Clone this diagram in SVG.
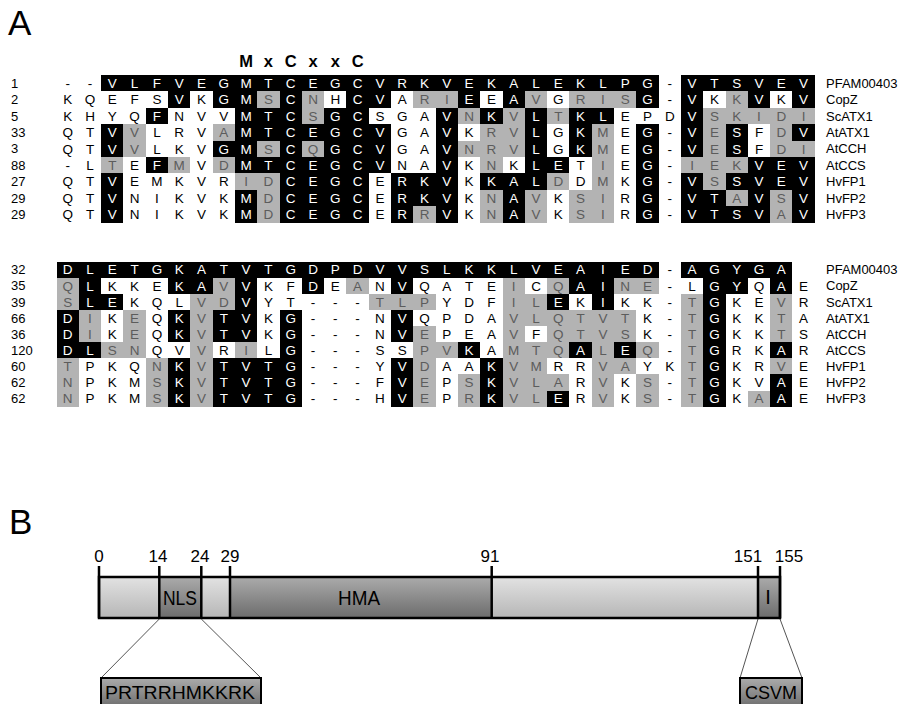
<svg xmlns="http://www.w3.org/2000/svg" width="900" height="704" viewBox="0 0 900 704">
<defs>
<linearGradient id="lt" x1="0" y1="0" x2="0" y2="1"><stop offset="0" stop-color="#e2e2e2"/><stop offset="1" stop-color="#b6b6b6"/></linearGradient>
<linearGradient id="dk" x1="0" y1="0" x2="0" y2="1"><stop offset="0" stop-color="#ababab"/><stop offset="1" stop-color="#6c6c6c"/></linearGradient>
<style>
text{font-family:"Liberation Sans",Arial,sans-serif;}
.al{font-size:13.5px;text-anchor:middle;}
.k{fill:#000;}
.w{fill:#fff;}
.g{fill:#5c5c5c;}
.cells rect{shape-rendering:crispEdges;}
.b{fill:#000;}
.gr{fill:#b3b3b3;}
.num{font-size:13px;fill:#000;}
.nm{font-size:13px;fill:#000;}
.tk{font-size:17px;fill:#000;text-anchor:middle;}
.seg{stroke:#000;stroke-width:2.5;}
.dom{font-size:20px;fill:#000;text-anchor:middle;}
.co{stroke:#555;stroke-width:1;fill:none;}
.panel{font-size:35px;fill:#000;}
</style>
</defs>
<rect width="900" height="704" fill="#fff"/>
<text class="panel" x="8" y="35">A</text>
<text class="panel" x="9" y="534">B</text>
<g id="motif" style="font-size:16.5px;font-weight:bold;text-anchor:middle">
<text x="246.1" y="67">M</text><text x="268.4" y="67">x</text><text x="290.7" y="67">C</text><text x="313" y="67">x</text><text x="335.3" y="67">x</text><text x="357.6" y="67">C</text>
</g>
<g id="block1">
<g class="cells" transform="translate(56.5,75) scale(22.3,16.4)">
<rect class="b" x="2" y="0" width="25" height="1"/><rect class="b" x="28" y="0" width="6" height="1"/>
<rect class="b" x="5" y="1" width="1" height="1"/><rect class="b" x="7" y="1" width="2" height="1"/><rect class="gr" x="9" y="1" width="1" height="1"/><rect class="b" x="10" y="1" width="1" height="1"/><rect class="gr" x="11" y="1" width="1" height="1"/><rect class="b" x="13" y="1" width="2" height="1"/><rect class="gr" x="16" y="1" width="2" height="1"/><rect class="b" x="18" y="1" width="1" height="1"/><rect class="b" x="20" y="1" width="1" height="1"/><rect class="gr" x="21" y="1" width="1" height="1"/><rect class="gr" x="23" y="1" width="3" height="1"/><rect class="b" x="26" y="1" width="1" height="1"/><rect class="b" x="28" y="1" width="1" height="1"/><rect class="gr" x="30" y="1" width="1" height="1"/><rect class="b" x="31" y="1" width="1" height="1"/><rect class="b" x="33" y="1" width="1" height="1"/>
<rect class="b" x="4" y="2" width="1" height="1"/><rect class="b" x="8" y="2" width="3" height="1"/><rect class="gr" x="11" y="2" width="1" height="1"/><rect class="b" x="12" y="2" width="2" height="1"/><rect class="b" x="17" y="2" width="1" height="1"/><rect class="gr" x="18" y="2" width="1" height="1"/><rect class="b" x="19" y="2" width="1" height="1"/><rect class="gr" x="20" y="2" width="1" height="1"/><rect class="b" x="21" y="2" width="1" height="1"/><rect class="gr" x="22" y="2" width="1" height="1"/><rect class="b" x="23" y="2" width="2" height="1"/><rect class="b" x="28" y="2" width="1" height="1"/><rect class="gr" x="29" y="2" width="5" height="1"/>
<rect class="b" x="2" y="3" width="1" height="1"/><rect class="gr" x="3" y="3" width="1" height="1"/><rect class="gr" x="7" y="3" width="1" height="1"/><rect class="b" x="8" y="3" width="7" height="1"/><rect class="b" x="17" y="3" width="1" height="1"/><rect class="gr" x="19" y="3" width="2" height="1"/><rect class="b" x="21" y="3" width="1" height="1"/><rect class="b" x="23" y="3" width="1" height="1"/><rect class="gr" x="24" y="3" width="1" height="1"/><rect class="b" x="26" y="3" width="1" height="1"/><rect class="b" x="28" y="3" width="1" height="1"/><rect class="gr" x="29" y="3" width="1" height="1"/><rect class="b" x="30" y="3" width="1" height="1"/><rect class="gr" x="32" y="3" width="1" height="1"/><rect class="b" x="33" y="3" width="1" height="1"/>
<rect class="b" x="2" y="4" width="1" height="1"/><rect class="gr" x="3" y="4" width="1" height="1"/><rect class="b" x="7" y="4" width="2" height="1"/><rect class="gr" x="9" y="4" width="1" height="1"/><rect class="b" x="10" y="4" width="1" height="1"/><rect class="gr" x="11" y="4" width="1" height="1"/><rect class="b" x="12" y="4" width="3" height="1"/><rect class="b" x="17" y="4" width="1" height="1"/><rect class="gr" x="18" y="4" width="3" height="1"/><rect class="b" x="21" y="4" width="1" height="1"/><rect class="b" x="23" y="4" width="1" height="1"/><rect class="gr" x="24" y="4" width="1" height="1"/><rect class="b" x="26" y="4" width="1" height="1"/><rect class="b" x="28" y="4" width="1" height="1"/><rect class="gr" x="29" y="4" width="1" height="1"/><rect class="b" x="30" y="4" width="1" height="1"/><rect class="gr" x="32" y="4" width="2" height="1"/>
<rect class="gr" x="2" y="5" width="1" height="1"/><rect class="b" x="4" y="5" width="1" height="1"/><rect class="gr" x="5" y="5" width="1" height="1"/><rect class="gr" x="7" y="5" width="1" height="1"/><rect class="b" x="8" y="5" width="7" height="1"/><rect class="b" x="17" y="5" width="1" height="1"/><rect class="gr" x="19" y="5" width="1" height="1"/><rect class="b" x="21" y="5" width="2" height="1"/><rect class="gr" x="24" y="5" width="1" height="1"/><rect class="b" x="26" y="5" width="1" height="1"/><rect class="gr" x="28" y="5" width="3" height="1"/><rect class="b" x="31" y="5" width="3" height="1"/>
<rect class="b" x="2" y="6" width="1" height="1"/><rect class="gr" x="8" y="6" width="2" height="1"/><rect class="b" x="10" y="6" width="4" height="1"/><rect class="b" x="15" y="6" width="3" height="1"/><rect class="b" x="19" y="6" width="3" height="1"/><rect class="gr" x="22" y="6" width="1" height="1"/><rect class="gr" x="24" y="6" width="1" height="1"/><rect class="b" x="26" y="6" width="1" height="1"/><rect class="b" x="28" y="6" width="1" height="1"/><rect class="gr" x="29" y="6" width="1" height="1"/><rect class="b" x="30" y="6" width="4" height="1"/>
<rect class="b" x="2" y="7" width="1" height="1"/><rect class="b" x="8" y="7" width="1" height="1"/><rect class="gr" x="9" y="7" width="1" height="1"/><rect class="b" x="10" y="7" width="4" height="1"/><rect class="b" x="15" y="7" width="3" height="1"/><rect class="gr" x="19" y="7" width="1" height="1"/><rect class="b" x="20" y="7" width="1" height="1"/><rect class="gr" x="21" y="7" width="1" height="1"/><rect class="gr" x="23" y="7" width="2" height="1"/><rect class="b" x="26" y="7" width="1" height="1"/><rect class="b" x="28" y="7" width="2" height="1"/><rect class="gr" x="30" y="7" width="1" height="1"/><rect class="b" x="31" y="7" width="1" height="1"/><rect class="gr" x="32" y="7" width="1" height="1"/><rect class="b" x="33" y="7" width="1" height="1"/>
<rect class="b" x="2" y="8" width="1" height="1"/><rect class="b" x="8" y="8" width="1" height="1"/><rect class="gr" x="9" y="8" width="1" height="1"/><rect class="b" x="10" y="8" width="4" height="1"/><rect class="b" x="15" y="8" width="1" height="1"/><rect class="gr" x="16" y="8" width="1" height="1"/><rect class="b" x="17" y="8" width="1" height="1"/><rect class="gr" x="19" y="8" width="1" height="1"/><rect class="b" x="20" y="8" width="1" height="1"/><rect class="gr" x="21" y="8" width="1" height="1"/><rect class="gr" x="23" y="8" width="2" height="1"/><rect class="b" x="26" y="8" width="1" height="1"/><rect class="b" x="28" y="8" width="4" height="1"/><rect class="gr" x="32" y="8" width="1" height="1"/><rect class="b" x="33" y="8" width="1" height="1"/>
</g>
<g id="seq1">
<text class="al" y="87.9" x="67.7 90 112.3 134.6 156.9 179.2 201.5 223.8 246.1 268.4 290.7 313 335.3 357.6 379.9 402.2 424.5 446.8 469.1 491.4 513.7 536 558.3 580.6 602.9 625.2 647.5 669.8 692.1 714.4 736.7 759 781.3 803.6"><tspan class="k">--</tspan><tspan class="w">VLFVEGMTCEGCVRKVEKALEKLPG</tspan><tspan class="k">-</tspan><tspan class="w">VTSVEV</tspan></text>
<text class="al" y="104.3" x="67.7 90 112.3 134.6 156.9 179.2 201.5 223.8 246.1 268.4 290.7 313 335.3 357.6 379.9 402.2 424.5 446.8 469.1 491.4 513.7 536 558.3 580.6 602.9 625.2 647.5 669.8 692.1 714.4 736.7 759 781.3 803.6"><tspan class="k">KQEFS</tspan><tspan class="w">V</tspan><tspan class="k">K</tspan><tspan class="w">GM</tspan><tspan class="g">S</tspan><tspan class="w">C</tspan><tspan class="g">N</tspan><tspan class="k">H</tspan><tspan class="w">CV</tspan><tspan class="k">A</tspan><tspan class="g">RI</tspan><tspan class="w">E</tspan><tspan class="k">E</tspan><tspan class="w">A</tspan><tspan class="g">V</tspan><tspan class="k">G</tspan><tspan class="g">RIS</tspan><tspan class="w">G</tspan><tspan class="k">-</tspan><tspan class="w">V</tspan><tspan class="k">K</tspan><tspan class="g">K</tspan><tspan class="w">V</tspan><tspan class="k">K</tspan><tspan class="w">V</tspan></text>
<text class="al" y="120.7" x="67.7 90 112.3 134.6 156.9 179.2 201.5 223.8 246.1 268.4 290.7 313 335.3 357.6 379.9 402.2 424.5 446.8 469.1 491.4 513.7 536 558.3 580.6 602.9 625.2 647.5 669.8 692.1 714.4 736.7 759 781.3 803.6"><tspan class="k">KHYQ</tspan><tspan class="w">F</tspan><tspan class="k">NVV</tspan><tspan class="w">MTC</tspan><tspan class="g">S</tspan><tspan class="w">GC</tspan><tspan class="k">SGA</tspan><tspan class="w">V</tspan><tspan class="g">N</tspan><tspan class="w">K</tspan><tspan class="g">V</tspan><tspan class="w">L</tspan><tspan class="g">T</tspan><tspan class="w">KL</tspan><tspan class="k">EPD</tspan><tspan class="w">V</tspan><tspan class="g">SKIDI</tspan></text>
<text class="al" y="137.1" x="67.7 90 112.3 134.6 156.9 179.2 201.5 223.8 246.1 268.4 290.7 313 335.3 357.6 379.9 402.2 424.5 446.8 469.1 491.4 513.7 536 558.3 580.6 602.9 625.2 647.5 669.8 692.1 714.4 736.7 759 781.3 803.6"><tspan class="k">QT</tspan><tspan class="w">V</tspan><tspan class="g">V</tspan><tspan class="k">LRV</tspan><tspan class="g">A</tspan><tspan class="w">MTCEGCV</tspan><tspan class="k">GA</tspan><tspan class="w">V</tspan><tspan class="k">K</tspan><tspan class="g">RV</tspan><tspan class="w">L</tspan><tspan class="k">G</tspan><tspan class="w">K</tspan><tspan class="g">M</tspan><tspan class="k">E</tspan><tspan class="w">G</tspan><tspan class="k">-</tspan><tspan class="w">V</tspan><tspan class="g">E</tspan><tspan class="w">S</tspan><tspan class="k">F</tspan><tspan class="g">D</tspan><tspan class="w">V</tspan></text>
<text class="al" y="153.5" x="67.7 90 112.3 134.6 156.9 179.2 201.5 223.8 246.1 268.4 290.7 313 335.3 357.6 379.9 402.2 424.5 446.8 469.1 491.4 513.7 536 558.3 580.6 602.9 625.2 647.5 669.8 692.1 714.4 736.7 759 781.3 803.6"><tspan class="k">QT</tspan><tspan class="w">V</tspan><tspan class="g">V</tspan><tspan class="k">LKV</tspan><tspan class="w">GM</tspan><tspan class="g">S</tspan><tspan class="w">C</tspan><tspan class="g">Q</tspan><tspan class="w">GCV</tspan><tspan class="k">GA</tspan><tspan class="w">V</tspan><tspan class="g">NRV</tspan><tspan class="w">L</tspan><tspan class="k">G</tspan><tspan class="w">K</tspan><tspan class="g">M</tspan><tspan class="k">E</tspan><tspan class="w">G</tspan><tspan class="k">-</tspan><tspan class="w">V</tspan><tspan class="g">E</tspan><tspan class="w">S</tspan><tspan class="k">F</tspan><tspan class="g">DI</tspan></text>
<text class="al" y="169.9" x="67.7 90 112.3 134.6 156.9 179.2 201.5 223.8 246.1 268.4 290.7 313 335.3 357.6 379.9 402.2 424.5 446.8 469.1 491.4 513.7 536 558.3 580.6 602.9 625.2 647.5 669.8 692.1 714.4 736.7 759 781.3 803.6"><tspan class="k">-L</tspan><tspan class="g">T</tspan><tspan class="k">E</tspan><tspan class="w">F</tspan><tspan class="g">M</tspan><tspan class="k">V</tspan><tspan class="g">D</tspan><tspan class="w">MTCEGCV</tspan><tspan class="k">NA</tspan><tspan class="w">V</tspan><tspan class="k">K</tspan><tspan class="g">N</tspan><tspan class="k">K</tspan><tspan class="w">LE</tspan><tspan class="k">T</tspan><tspan class="g">I</tspan><tspan class="k">E</tspan><tspan class="w">G</tspan><tspan class="k">-</tspan><tspan class="g">IEK</tspan><tspan class="w">VEV</tspan></text>
<text class="al" y="186.3" x="67.7 90 112.3 134.6 156.9 179.2 201.5 223.8 246.1 268.4 290.7 313 335.3 357.6 379.9 402.2 424.5 446.8 469.1 491.4 513.7 536 558.3 580.6 602.9 625.2 647.5 669.8 692.1 714.4 736.7 759 781.3 803.6"><tspan class="k">QT</tspan><tspan class="w">V</tspan><tspan class="k">EMKVR</tspan><tspan class="g">ID</tspan><tspan class="w">CEGC</tspan><tspan class="k">E</tspan><tspan class="w">RKV</tspan><tspan class="k">K</tspan><tspan class="w">KAL</tspan><tspan class="g">D</tspan><tspan class="k">D</tspan><tspan class="g">M</tspan><tspan class="k">K</tspan><tspan class="w">G</tspan><tspan class="k">-</tspan><tspan class="w">V</tspan><tspan class="g">S</tspan><tspan class="w">SVEV</tspan></text>
<text class="al" y="202.7" x="67.7 90 112.3 134.6 156.9 179.2 201.5 223.8 246.1 268.4 290.7 313 335.3 357.6 379.9 402.2 424.5 446.8 469.1 491.4 513.7 536 558.3 580.6 602.9 625.2 647.5 669.8 692.1 714.4 736.7 759 781.3 803.6"><tspan class="k">QT</tspan><tspan class="w">V</tspan><tspan class="k">NIKVK</tspan><tspan class="w">M</tspan><tspan class="g">D</tspan><tspan class="w">CEGC</tspan><tspan class="k">E</tspan><tspan class="w">RKV</tspan><tspan class="k">K</tspan><tspan class="g">N</tspan><tspan class="w">A</tspan><tspan class="g">V</tspan><tspan class="k">K</tspan><tspan class="g">SI</tspan><tspan class="k">R</tspan><tspan class="w">G</tspan><tspan class="k">-</tspan><tspan class="w">VT</tspan><tspan class="g">A</tspan><tspan class="w">V</tspan><tspan class="g">S</tspan><tspan class="w">V</tspan></text>
<text class="al" y="219.1" x="67.7 90 112.3 134.6 156.9 179.2 201.5 223.8 246.1 268.4 290.7 313 335.3 357.6 379.9 402.2 424.5 446.8 469.1 491.4 513.7 536 558.3 580.6 602.9 625.2 647.5 669.8 692.1 714.4 736.7 759 781.3 803.6"><tspan class="k">QT</tspan><tspan class="w">V</tspan><tspan class="k">NIKVK</tspan><tspan class="w">M</tspan><tspan class="g">D</tspan><tspan class="w">CEGC</tspan><tspan class="k">E</tspan><tspan class="w">R</tspan><tspan class="g">R</tspan><tspan class="w">V</tspan><tspan class="k">K</tspan><tspan class="g">N</tspan><tspan class="w">A</tspan><tspan class="g">V</tspan><tspan class="k">K</tspan><tspan class="g">SI</tspan><tspan class="k">R</tspan><tspan class="w">G</tspan><tspan class="k">-</tspan><tspan class="w">VTSV</tspan><tspan class="g">A</tspan><tspan class="w">V</tspan></text>
</g>
<g id="nums1" class="num">
<text x="11" y="87.8">1</text><text x="11" y="104.2">2</text><text x="11" y="120.6">5</text><text x="11" y="137">33</text><text x="11" y="153.4">3</text><text x="11" y="169.8">88</text><text x="11" y="186.2">27</text><text x="11" y="202.6">29</text><text x="11" y="219">29</text>
</g>
<g id="names1" class="nm">
<text x="826" y="87.8">PFAM00403</text><text x="826" y="104.2">CopZ</text><text x="826" y="120.6">ScATX1</text><text x="826" y="137">AtATX1</text><text x="826" y="153.4">AtCCH</text><text x="826" y="169.8">AtCCS</text><text x="826" y="186.2">HvFP1</text><text x="826" y="202.6">HvFP2</text><text x="826" y="219">HvFP3</text>
</g>
</g>
<g id="block2">
<g class="cells" transform="translate(56.5,261.7) scale(22.3,16.1)">
<rect class="b" x="0" y="0" width="27" height="1"/><rect class="b" x="28" y="0" width="5" height="1"/>
<rect class="gr" x="0" y="1" width="1" height="1"/><rect class="b" x="1" y="1" width="1" height="1"/><rect class="b" x="5" y="1" width="2" height="1"/><rect class="gr" x="7" y="1" width="1" height="1"/><rect class="b" x="8" y="1" width="1" height="1"/><rect class="b" x="11" y="1" width="1" height="1"/><rect class="gr" x="13" y="1" width="1" height="1"/><rect class="b" x="15" y="1" width="1" height="1"/><rect class="gr" x="20" y="1" width="1" height="1"/><rect class="gr" x="22" y="1" width="1" height="1"/><rect class="b" x="23" y="1" width="2" height="1"/><rect class="gr" x="25" y="1" width="2" height="1"/><rect class="b" x="29" y="1" width="2" height="1"/><rect class="b" x="32" y="1" width="1" height="1"/>
<rect class="gr" x="0" y="2" width="1" height="1"/><rect class="b" x="1" y="2" width="2" height="1"/><rect class="gr" x="6" y="2" width="2" height="1"/><rect class="b" x="8" y="2" width="1" height="1"/><rect class="gr" x="14" y="2" width="3" height="1"/><rect class="gr" x="20" y="2" width="2" height="1"/><rect class="b" x="22" y="2" width="1" height="1"/><rect class="b" x="24" y="2" width="1" height="1"/><rect class="gr" x="28" y="2" width="1" height="1"/><rect class="b" x="29" y="2" width="1" height="1"/><rect class="gr" x="32" y="2" width="1" height="1"/>
<rect class="b" x="0" y="3" width="1" height="1"/><rect class="gr" x="1" y="3" width="1" height="1"/><rect class="gr" x="3" y="3" width="1" height="1"/><rect class="b" x="5" y="3" width="1" height="1"/><rect class="gr" x="6" y="3" width="1" height="1"/><rect class="b" x="7" y="3" width="2" height="1"/><rect class="b" x="10" y="3" width="1" height="1"/><rect class="b" x="15" y="3" width="1" height="1"/><rect class="gr" x="20" y="3" width="6" height="1"/><rect class="gr" x="28" y="3" width="1" height="1"/><rect class="b" x="29" y="3" width="1" height="1"/><rect class="gr" x="32" y="3" width="1" height="1"/>
<rect class="b" x="0" y="4" width="1" height="1"/><rect class="gr" x="1" y="4" width="1" height="1"/><rect class="gr" x="3" y="4" width="1" height="1"/><rect class="b" x="5" y="4" width="1" height="1"/><rect class="gr" x="6" y="4" width="1" height="1"/><rect class="b" x="7" y="4" width="2" height="1"/><rect class="b" x="10" y="4" width="1" height="1"/><rect class="b" x="15" y="4" width="1" height="1"/><rect class="gr" x="16" y="4" width="1" height="1"/><rect class="gr" x="20" y="4" width="1" height="1"/><rect class="gr" x="22" y="4" width="4" height="1"/><rect class="gr" x="28" y="4" width="1" height="1"/><rect class="b" x="29" y="4" width="1" height="1"/><rect class="gr" x="32" y="4" width="1" height="1"/>
<rect class="b" x="0" y="5" width="2" height="1"/><rect class="gr" x="2" y="5" width="2" height="1"/><rect class="gr" x="6" y="5" width="1" height="1"/><rect class="gr" x="8" y="5" width="1" height="1"/><rect class="b" x="10" y="5" width="1" height="1"/><rect class="gr" x="16" y="5" width="2" height="1"/><rect class="b" x="18" y="5" width="1" height="1"/><rect class="gr" x="20" y="5" width="3" height="1"/><rect class="b" x="23" y="5" width="1" height="1"/><rect class="gr" x="24" y="5" width="1" height="1"/><rect class="b" x="25" y="5" width="1" height="1"/><rect class="gr" x="26" y="5" width="1" height="1"/><rect class="gr" x="28" y="5" width="1" height="1"/><rect class="b" x="29" y="5" width="1" height="1"/><rect class="b" x="32" y="5" width="1" height="1"/>
<rect class="gr" x="0" y="6" width="1" height="1"/><rect class="gr" x="4" y="6" width="1" height="1"/><rect class="b" x="5" y="6" width="1" height="1"/><rect class="gr" x="6" y="6" width="1" height="1"/><rect class="b" x="7" y="6" width="4" height="1"/><rect class="b" x="15" y="6" width="1" height="1"/><rect class="gr" x="16" y="6" width="1" height="1"/><rect class="b" x="19" y="6" width="1" height="1"/><rect class="gr" x="20" y="6" width="2" height="1"/><rect class="gr" x="24" y="6" width="2" height="1"/><rect class="gr" x="28" y="6" width="1" height="1"/><rect class="b" x="29" y="6" width="1" height="1"/><rect class="gr" x="32" y="6" width="1" height="1"/>
<rect class="gr" x="0" y="7" width="1" height="1"/><rect class="gr" x="4" y="7" width="1" height="1"/><rect class="b" x="5" y="7" width="1" height="1"/><rect class="gr" x="6" y="7" width="1" height="1"/><rect class="b" x="7" y="7" width="4" height="1"/><rect class="b" x="15" y="7" width="1" height="1"/><rect class="gr" x="16" y="7" width="1" height="1"/><rect class="gr" x="18" y="7" width="1" height="1"/><rect class="b" x="19" y="7" width="1" height="1"/><rect class="gr" x="20" y="7" width="3" height="1"/><rect class="gr" x="24" y="7" width="1" height="1"/><rect class="gr" x="26" y="7" width="1" height="1"/><rect class="gr" x="28" y="7" width="1" height="1"/><rect class="b" x="29" y="7" width="1" height="1"/><rect class="b" x="32" y="7" width="1" height="1"/>
<rect class="gr" x="0" y="8" width="1" height="1"/><rect class="gr" x="4" y="8" width="1" height="1"/><rect class="b" x="5" y="8" width="1" height="1"/><rect class="gr" x="6" y="8" width="1" height="1"/><rect class="b" x="7" y="8" width="4" height="1"/><rect class="b" x="15" y="8" width="1" height="1"/><rect class="gr" x="16" y="8" width="1" height="1"/><rect class="gr" x="18" y="8" width="1" height="1"/><rect class="b" x="19" y="8" width="1" height="1"/><rect class="gr" x="20" y="8" width="2" height="1"/><rect class="b" x="22" y="8" width="1" height="1"/><rect class="gr" x="24" y="8" width="1" height="1"/><rect class="gr" x="26" y="8" width="1" height="1"/><rect class="gr" x="28" y="8" width="1" height="1"/><rect class="b" x="29" y="8" width="1" height="1"/><rect class="gr" x="31" y="8" width="1" height="1"/><rect class="b" x="32" y="8" width="1" height="1"/>
</g>
<g id="seq2">
<text class="al" y="274.4" x="67.7 90 112.3 134.6 156.9 179.2 201.5 223.8 246.1 268.4 290.7 313 335.3 357.6 379.9 402.2 424.5 446.8 469.1 491.4 513.7 536 558.3 580.6 602.9 625.2 647.5 669.8 692.1 714.4 736.7 759 781.3 803.6"><tspan class="w">DLETGKATVTGDPDVVSLKKLVEAIED</tspan><tspan class="k">-</tspan><tspan class="w">AGYGA</tspan></text>
<text class="al" y="290.5" x="67.7 90 112.3 134.6 156.9 179.2 201.5 223.8 246.1 268.4 290.7 313 335.3 357.6 379.9 402.2 424.5 446.8 469.1 491.4 513.7 536 558.3 580.6 602.9 625.2 647.5 669.8 692.1 714.4 736.7 759 781.3 803.6"><tspan class="g">Q</tspan><tspan class="w">L</tspan><tspan class="k">KKE</tspan><tspan class="w">KA</tspan><tspan class="g">V</tspan><tspan class="w">V</tspan><tspan class="k">KF</tspan><tspan class="w">D</tspan><tspan class="k">E</tspan><tspan class="g">A</tspan><tspan class="k">N</tspan><tspan class="w">V</tspan><tspan class="k">QATE</tspan><tspan class="g">I</tspan><tspan class="k">C</tspan><tspan class="g">Q</tspan><tspan class="w">AI</tspan><tspan class="g">NE</tspan><tspan class="k">-L</tspan><tspan class="w">GY</tspan><tspan class="k">Q</tspan><tspan class="w">A</tspan><tspan class="k">E</tspan></text>
<text class="al" y="306.6" x="67.7 90 112.3 134.6 156.9 179.2 201.5 223.8 246.1 268.4 290.7 313 335.3 357.6 379.9 402.2 424.5 446.8 469.1 491.4 513.7 536 558.3 580.6 602.9 625.2 647.5 669.8 692.1 714.4 736.7 759 781.3 803.6"><tspan class="g">S</tspan><tspan class="w">LE</tspan><tspan class="k">KQL</tspan><tspan class="g">VD</tspan><tspan class="w">V</tspan><tspan class="k">YT---</tspan><tspan class="g">TLP</tspan><tspan class="k">YDF</tspan><tspan class="g">IL</tspan><tspan class="w">E</tspan><tspan class="k">K</tspan><tspan class="w">I</tspan><tspan class="k">KK-</tspan><tspan class="g">T</tspan><tspan class="w">G</tspan><tspan class="k">KE</tspan><tspan class="g">V</tspan><tspan class="k">R</tspan></text>
<text class="al" y="322.7" x="67.7 90 112.3 134.6 156.9 179.2 201.5 223.8 246.1 268.4 290.7 313 335.3 357.6 379.9 402.2 424.5 446.8 469.1 491.4 513.7 536 558.3 580.6 602.9 625.2 647.5 669.8 692.1 714.4 736.7 759 781.3 803.6"><tspan class="w">D</tspan><tspan class="g">I</tspan><tspan class="k">K</tspan><tspan class="g">E</tspan><tspan class="k">Q</tspan><tspan class="w">K</tspan><tspan class="g">V</tspan><tspan class="w">TV</tspan><tspan class="k">K</tspan><tspan class="w">G</tspan><tspan class="k">---N</tspan><tspan class="w">V</tspan><tspan class="k">QPDA</tspan><tspan class="g">VLQTVT</tspan><tspan class="k">K-</tspan><tspan class="g">T</tspan><tspan class="w">G</tspan><tspan class="k">KK</tspan><tspan class="g">T</tspan><tspan class="k">A</tspan></text>
<text class="al" y="338.8" x="67.7 90 112.3 134.6 156.9 179.2 201.5 223.8 246.1 268.4 290.7 313 335.3 357.6 379.9 402.2 424.5 446.8 469.1 491.4 513.7 536 558.3 580.6 602.9 625.2 647.5 669.8 692.1 714.4 736.7 759 781.3 803.6"><tspan class="w">D</tspan><tspan class="g">I</tspan><tspan class="k">K</tspan><tspan class="g">E</tspan><tspan class="k">Q</tspan><tspan class="w">K</tspan><tspan class="g">V</tspan><tspan class="w">TV</tspan><tspan class="k">K</tspan><tspan class="w">G</tspan><tspan class="k">---N</tspan><tspan class="w">V</tspan><tspan class="g">E</tspan><tspan class="k">PEA</tspan><tspan class="g">V</tspan><tspan class="k">F</tspan><tspan class="g">QTVS</tspan><tspan class="k">K-</tspan><tspan class="g">T</tspan><tspan class="w">G</tspan><tspan class="k">KK</tspan><tspan class="g">T</tspan><tspan class="k">S</tspan></text>
<text class="al" y="354.9" x="67.7 90 112.3 134.6 156.9 179.2 201.5 223.8 246.1 268.4 290.7 313 335.3 357.6 379.9 402.2 424.5 446.8 469.1 491.4 513.7 536 558.3 580.6 602.9 625.2 647.5 669.8 692.1 714.4 736.7 759 781.3 803.6"><tspan class="w">DL</tspan><tspan class="g">SN</tspan><tspan class="k">QV</tspan><tspan class="g">V</tspan><tspan class="k">R</tspan><tspan class="g">I</tspan><tspan class="k">L</tspan><tspan class="w">G</tspan><tspan class="k">---SS</tspan><tspan class="g">PV</tspan><tspan class="w">K</tspan><tspan class="k">A</tspan><tspan class="g">MTQ</tspan><tspan class="w">A</tspan><tspan class="g">L</tspan><tspan class="w">E</tspan><tspan class="g">Q</tspan><tspan class="k">-</tspan><tspan class="g">T</tspan><tspan class="w">G</tspan><tspan class="k">RK</tspan><tspan class="w">A</tspan><tspan class="k">R</tspan></text>
<text class="al" y="371" x="67.7 90 112.3 134.6 156.9 179.2 201.5 223.8 246.1 268.4 290.7 313 335.3 357.6 379.9 402.2 424.5 446.8 469.1 491.4 513.7 536 558.3 580.6 602.9 625.2 647.5 669.8 692.1 714.4 736.7 759 781.3 803.6"><tspan class="g">T</tspan><tspan class="k">PKQ</tspan><tspan class="g">N</tspan><tspan class="w">K</tspan><tspan class="g">V</tspan><tspan class="w">TVTG</tspan><tspan class="k">---Y</tspan><tspan class="w">V</tspan><tspan class="g">D</tspan><tspan class="k">AA</tspan><tspan class="w">K</tspan><tspan class="g">VM</tspan><tspan class="k">RR</tspan><tspan class="g">VA</tspan><tspan class="k">YK</tspan><tspan class="g">T</tspan><tspan class="w">G</tspan><tspan class="k">KR</tspan><tspan class="g">V</tspan><tspan class="k">E</tspan></text>
<text class="al" y="387.1" x="67.7 90 112.3 134.6 156.9 179.2 201.5 223.8 246.1 268.4 290.7 313 335.3 357.6 379.9 402.2 424.5 446.8 469.1 491.4 513.7 536 558.3 580.6 602.9 625.2 647.5 669.8 692.1 714.4 736.7 759 781.3 803.6"><tspan class="g">N</tspan><tspan class="k">PKM</tspan><tspan class="g">S</tspan><tspan class="w">K</tspan><tspan class="g">V</tspan><tspan class="w">TVTG</tspan><tspan class="k">---F</tspan><tspan class="w">V</tspan><tspan class="g">E</tspan><tspan class="k">P</tspan><tspan class="g">S</tspan><tspan class="w">K</tspan><tspan class="g">VLA</tspan><tspan class="k">R</tspan><tspan class="g">V</tspan><tspan class="k">K</tspan><tspan class="g">S</tspan><tspan class="k">-</tspan><tspan class="g">T</tspan><tspan class="w">G</tspan><tspan class="k">KV</tspan><tspan class="w">A</tspan><tspan class="k">E</tspan></text>
<text class="al" y="403.2" x="67.7 90 112.3 134.6 156.9 179.2 201.5 223.8 246.1 268.4 290.7 313 335.3 357.6 379.9 402.2 424.5 446.8 469.1 491.4 513.7 536 558.3 580.6 602.9 625.2 647.5 669.8 692.1 714.4 736.7 759 781.3 803.6"><tspan class="g">N</tspan><tspan class="k">PKM</tspan><tspan class="g">S</tspan><tspan class="w">K</tspan><tspan class="g">V</tspan><tspan class="w">TVTG</tspan><tspan class="k">---H</tspan><tspan class="w">V</tspan><tspan class="g">E</tspan><tspan class="k">P</tspan><tspan class="g">R</tspan><tspan class="w">K</tspan><tspan class="g">VL</tspan><tspan class="w">E</tspan><tspan class="k">R</tspan><tspan class="g">V</tspan><tspan class="k">K</tspan><tspan class="g">S</tspan><tspan class="k">-</tspan><tspan class="g">T</tspan><tspan class="w">G</tspan><tspan class="k">K</tspan><tspan class="g">A</tspan><tspan class="w">A</tspan><tspan class="k">E</tspan></text>
</g>
<g id="nums2" class="num">
<text x="11" y="274.3">32</text><text x="11" y="290.4">35</text><text x="11" y="306.5">39</text><text x="11" y="322.6">66</text><text x="11" y="338.7">36</text><text x="11" y="354.8">120</text><text x="11" y="370.9">60</text><text x="11" y="387">62</text><text x="11" y="403.1">62</text>
</g>
<g id="names2" class="nm">
<text x="826" y="274.3">PFAM00403</text><text x="826" y="290.4">CopZ</text><text x="826" y="306.5">ScATX1</text><text x="826" y="322.6">AtATX1</text><text x="826" y="338.7">AtCCH</text><text x="826" y="354.8">AtCCS</text><text x="826" y="370.9">HvFP1</text><text x="826" y="387">HvFP2</text><text x="826" y="403.1">HvFP3</text>
</g>
</g>
<g id="connectors">
<line class="co" x1="159.3" y1="619" x2="101" y2="678"/>
<line class="co" x1="201.3" y1="619" x2="261" y2="678"/>
<line class="co" x1="758" y1="619" x2="740" y2="678"/>
<line class="co" x1="780" y1="619" x2="802" y2="678"/>
</g>
<g id="protein-bar">
<rect id="seg-0-14" x="99" y="577" width="60.3" height="41" fill="url(#lt)"/>
<rect id="seg-NLS" x="159.3" y="577" width="42" height="41" fill="url(#dk)"/>
<rect id="seg-24-29" x="201.3" y="577" width="28.7" height="41" fill="url(#lt)"/>
<rect id="seg-HMA" x="230" y="577" width="261.7" height="41" fill="url(#dk)"/>
<rect id="seg-91-151" x="491.7" y="577" width="266.3" height="41" fill="url(#lt)"/>
<rect id="seg-I" x="758" y="577" width="22" height="41" fill="url(#dk)"/>
<rect x="99" y="577" width="681" height="41" fill="none" stroke="#000" stroke-width="2.5"/>
<g class="seg">
<line x1="99" y1="566" x2="99" y2="618"/><line x1="159.3" y1="566" x2="159.3" y2="618"/><line x1="201.3" y1="566" x2="201.3" y2="618"/><line x1="230" y1="566" x2="230" y2="618"/><line x1="491.7" y1="566" x2="491.7" y2="618"/><line x1="758" y1="566" x2="758" y2="618"/><line x1="780" y1="566" x2="780" y2="618"/>
</g>
<text class="tk" x="99" y="562">0</text><text class="tk" x="158" y="562">14</text><text class="tk" x="200" y="562">24</text><text class="tk" x="230" y="562">29</text><text class="tk" x="490" y="562">91</text><text class="tk" x="748" y="562">151</text><text class="tk" x="789" y="562">155</text>
<text class="dom" x="180" y="605" textLength="34" lengthAdjust="spacingAndGlyphs">NLS</text>
<text class="dom" x="359" y="605" textLength="42" lengthAdjust="spacingAndGlyphs">HMA</text>
<text class="dom" x="768" y="604">I</text>
</g>
<g id="callout-NLS">
<rect x="101" y="678" width="160" height="30" fill="url(#dk)" stroke="#000" stroke-width="2"/>
<text x="105" y="699" style="font-size:18px" textLength="150" lengthAdjust="spacingAndGlyphs">PRTRRHMKKRK</text>
</g>
<g id="callout-CSVM">
<rect x="740" y="678" width="62" height="30" fill="url(#dk)" stroke="#000" stroke-width="2"/>
<text x="771" y="699" style="font-size:18px;text-anchor:middle">CSVM</text>
</g>
</svg>
